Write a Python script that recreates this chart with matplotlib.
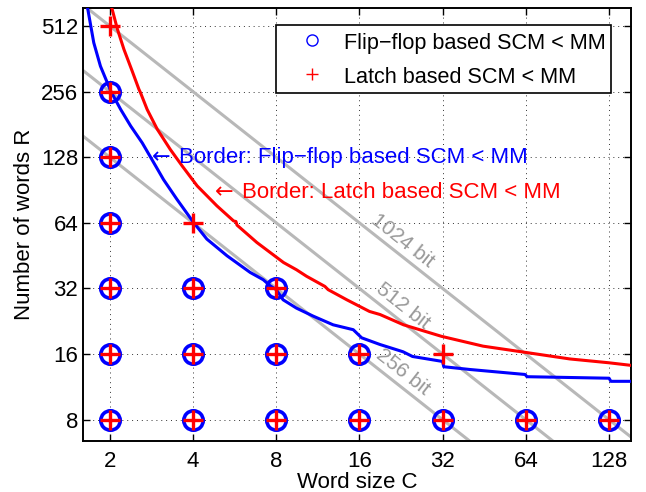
import numpy as np
import matplotlib
matplotlib.use("Agg")
import matplotlib.pyplot as plt
from matplotlib.lines import Line2D

plt.rcParams['font.family'] = ['Liberation Sans', 'DejaVu Sans']

# points where SCM beats MM (word size C, number of words R)
ff_C = [2, 2, 2, 2, 2, 2, 4, 4, 4, 8, 8, 8, 16, 16, 32, 64, 128]
ff_R = [256, 128, 64, 32, 16, 8, 32, 16, 8, 32, 16, 8, 16, 8, 8, 8, 8]
latch_C = [2, 2, 2, 2, 2, 2, 2, 4, 4, 4, 4, 8, 8, 8, 16, 16, 32, 32, 64, 128]
latch_R = [512, 256, 128, 64, 32, 16, 8, 64, 32, 16, 8, 32, 16, 8, 16, 8, 16, 8, 8, 8]

# border curves
ff_border_C = [1.66, 1.75, 1.85, 2.02, 2.19, 2.38, 2.62, 2.84, 3.13, 3.50, 4.02, 4.49,
               5.31, 6.44, 7.18, 7.61, 8.0, 8.47, 9.47, 10.88, 12.85, 15.2, 16.3, 19.0,
               23.0, 24.9, 32.0, 32.3, 40.1, 63.6, 64.6, 128.0, 130.0, 154.0]
ff_border_R = [625, 429, 335, 256, 212, 178, 149, 125, 101, 82, 64.2, 53.9,
               45.2, 37.9, 35.1, 32.9, 31.6, 28.4, 26.0, 23.9, 21.8, 20.7, 19.0, 17.7,
               16.4, 15.6, 14.8, 14.0, 13.6, 12.9, 12.6, 12.4, 12.0, 12.0]
latch_border_C = [2.03, 2.13, 2.25, 2.41, 2.55, 2.58, 2.73, 2.97, 3.31, 3.65, 4.14,
                  4.88, 5.61, 5.72, 5.77, 6.81, 8.5, 9.47, 10.3, 12.0, 12.33, 14.4,
                  17.4, 19.0, 23.1, 31.7, 44.8, 63.6, 92.3, 127.6, 154.0]
latch_border_R = [625, 496, 400, 318, 262, 254, 212, 172, 139, 117, 94.6,
                  76.6, 65.3, 64.9, 62.5, 52, 42.1, 39.0, 36.4, 32.7, 31.6, 28.4,
                  25.1, 24.3, 21.8, 19.3, 17.4, 16.3, 15.2, 14.6, 14.2]

# constant-capacity lines
bits = [256, 512, 1024]
bit_labels = ['256 bit', '512 bit', '1024 bit']
line_C = [1.5, 170.0]
label_C = 22.9

x_ticks = [2, 4, 8, 16, 32, 64, 128]
y_ticks = [8, 16, 32, 64, 128, 256, 512]

fig = plt.figure(figsize=(6.46, 4.92), dpi=100)
ax = fig.add_axes([0.1285, 0.1037, 0.8483, 0.88])
ax.set_xscale('log', base=2)
ax.set_yscale('log', base=2)
ax.set_xlim(1.6, 153.7)
ax.set_ylim(6.39, 619)

grey = (0.72, 0.72, 0.72)
for b in bits:
    ax.plot(line_C, [b / c for c in line_C], color=grey, lw=2.2, zorder=2)

ax.plot(ff_border_C, ff_border_R, color='blue', lw=2.2, zorder=3, solid_joinstyle='round')
ax.plot(latch_border_C, latch_border_R, color='red', lw=2.2, zorder=3, solid_joinstyle='round')

ax.plot(ff_C, ff_R, 'o', ms=14, mfc='none', mec='blue', mew=2.6, zorder=4)
ax.plot(latch_C, latch_R, '+', ms=15, mec='red', mew=2.4, zorder=5)

# rotated labels along the grey lines
p1 = ax.transData.transform((line_C[0], bits[0] / line_C[0]))
p2 = ax.transData.transform((line_C[1], bits[0] / line_C[1]))
ang = np.degrees(np.arctan2(p2[1] - p1[1], p2[0] - p1[0]))
for b, lab in zip(bits, bit_labels):
    ax.annotate(lab, (label_C, b / label_C), xytext=(0, 16), textcoords='offset pixels',
                rotation=ang, rotation_mode='anchor', ha='center', va='center',
                color=(0.6, 0.6, 0.6), fontsize=15, zorder=3)

# border annotations (arrow glyph drawn separately, DejaVu has a long one)
for c, r, txt, col in [(2.84, 128, 'Border: Flip\u2212flop based SCM < MM', 'blue'),
                       (4.8, 88, 'Border: Latch based SCM < MM', 'red')]:
    ax.annotate('\u2190', (c, r), xytext=(0, 0), textcoords='offset pixels',
                color=col, fontsize=16, va='center', ha='left', family='DejaVu Sans',
                zorder=6)
    ax.annotate(txt, (c, r), xytext=(27, 0), textcoords='offset pixels',
                color=col, fontsize=16, va='center', ha='left', zorder=6)

ax.set_xticks(x_ticks)
ax.set_xticklabels([str(v) for v in x_ticks])
ax.set_yticks(y_ticks)
ax.set_yticklabels([str(v) for v in y_ticks])
ax.minorticks_off()
ax.tick_params(direction='in', top=True, right=True, labelsize=16, length=5, width=1)
ax.tick_params(axis='x', pad=7)
ax.tick_params(axis='y', pad=3.5)
ax.grid(True, color='black', linestyle=(0, (1, 4)), linewidth=0.7, alpha=0.8)
for s in ax.spines.values():
    s.set_linewidth(1.4)

ax.set_xlabel('Word size C', fontsize=16, labelpad=0)
ax.set_ylabel('Number of words R', fontsize=16, labelpad=4)

handles = [Line2D([], [], ls='none', marker='o', ms=8, mfc='none', mec='blue', mew=1),
           Line2D([], [], ls='none', marker='+', ms=9, mec='red', mew=1)]
leg = ax.legend(handles, ['Flip\u2212flop based SCM < MM', 'Latch based SCM < MM'],
                loc='upper right', bbox_to_anchor=(0.963, 0.961), borderaxespad=0,
                fontsize=15.6, fancybox=False, framealpha=1, edgecolor='black',
                handlelength=2.8, handleheight=1.2, handletextpad=0.07,
                borderpad=0.25, labelspacing=0.5)
leg.get_frame().set_linewidth(1.2)

fig.savefig('out.png', dpi=100)
